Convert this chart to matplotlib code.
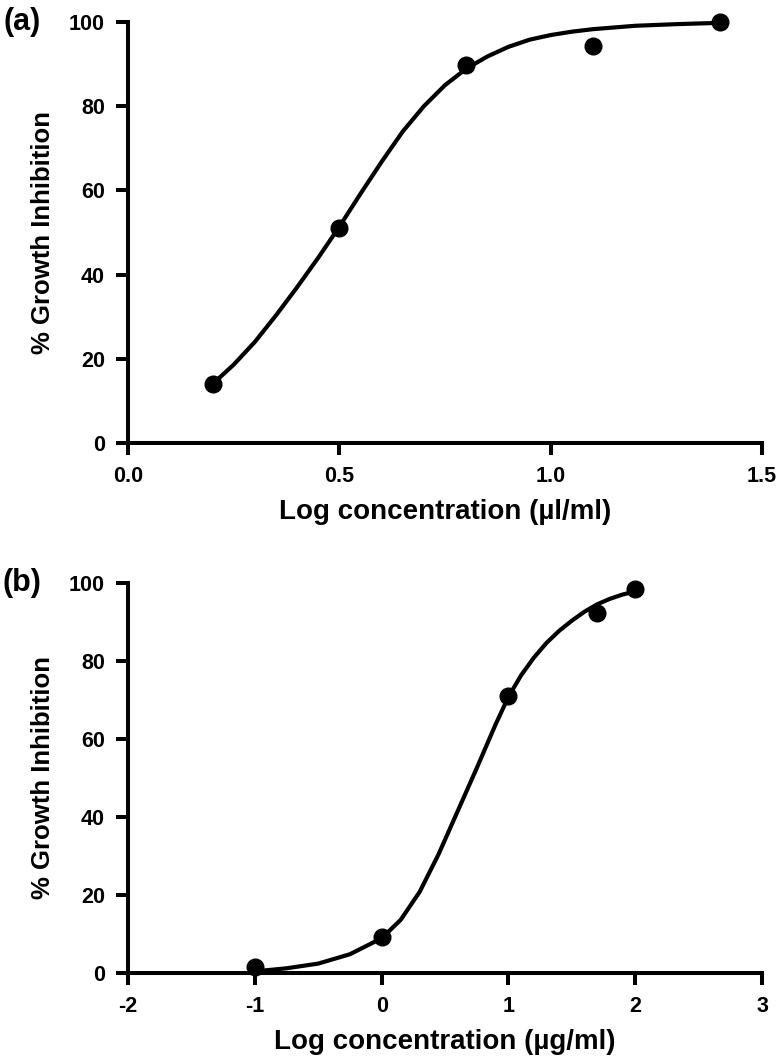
import matplotlib
matplotlib.use("Agg")
import matplotlib.pyplot as plt

plt.rcParams['font.family'] = ['Liberation Sans', 'DejaVu Sans']
plt.rcParams['font.weight'] = 'bold'
plt.rcParams['axes.unicode_minus'] = False

# panel (a): ul/ml
a_x = [0.2, 0.5, 0.8, 1.1, 1.4]
a_y = [14.0, 51.0, 89.8, 94.4, 99.9]
# fitted curve
a_fit_x = [0.20, 0.25, 0.30, 0.35, 0.40, 0.45, 0.50, 0.55, 0.60, 0.65, 0.70,
           0.75, 0.80, 0.85, 0.90, 0.95, 1.00, 1.05, 1.10, 1.20, 1.30, 1.40]
a_fit_y = [14.0, 18.6, 24.0, 30.3, 37.0, 44.0, 51.4, 59.2, 66.8, 74.0, 80.0,
           85.0, 88.9, 91.8, 94.1, 95.8, 96.9, 97.7, 98.3, 99.1, 99.5, 99.8]
a_xticks = [0.0, 0.5, 1.0, 1.5]
a_xlabels = ["0.0", "0.5", "1.0", "1.5"]

# panel (b): ug/ml
b_x = [-1, 0, 1, 1.7, 2]
b_y = [1.5, 9.2, 71.0, 92.3, 98.3]
b_fit_x = [-1.0, -0.75, -0.5, -0.25, 0.0, 0.15, 0.3, 0.45, 0.6, 0.75, 0.9,
           1.0, 1.1, 1.2, 1.3, 1.4, 1.5, 1.6, 1.7, 1.8, 1.9, 2.0]
b_fit_y = [0.4, 1.2, 2.4, 4.8, 8.9, 13.6, 20.8, 30.5, 41.5, 52.5, 63.8,
           70.8, 76.3, 80.8, 84.6, 87.7, 90.3, 92.6, 94.5, 95.9, 97.0, 97.8]
b_xticks = [-2, -1, 0, 1, 2, 3]
b_xlabels = ["-2", "-1", "0", "1", "2", "3"]

yticks = [0, 20, 40, 60, 80, 100]


def panel(ax, x, y, fx, fy, xticks, xlabels, xlabel):
    ax.plot(fx, fy, color='black', lw=3.0, clip_on=False, zorder=3,
            solid_joinstyle='round')
    ax.plot(x, y, 'o', color='black', ms=12, clip_on=False, zorder=4)
    ax.set_xlim(xticks[0], xticks[-1])
    ax.set_ylim(0, 100)
    ax.set_xticks(xticks)
    ax.set_xticklabels(xlabels)
    ax.set_yticks(yticks)
    for s in ['top', 'right']:
        ax.spines[s].set_visible(False)
    for s in ['left', 'bottom']:
        ax.spines[s].set_linewidth(2.9)
    ax.tick_params(axis='both', length=8.5, width=2.9, labelsize=15.5)
    ax.tick_params(axis='x', pad=8)
    ax.tick_params(axis='y', pad=8)
    ax.set_xlabel(xlabel, fontsize=20, fontweight='bold', labelpad=9)
    ax.set_ylabel("% Growth Inhibition", fontsize=18.5, fontweight='bold', labelpad=10)


fig = plt.figure(figsize=(7.76, 10.63), dpi=100)
ax1 = fig.add_axes([0.165, 0.5833, 0.817, 0.396])
ax2 = fig.add_axes([0.165, 0.0847, 0.817, 0.367])

panel(ax1, a_x, a_y, a_fit_x, a_fit_y, a_xticks, a_xlabels,
      "Log concentration (\u00b5l/ml)")
panel(ax2, b_x, b_y, b_fit_x, b_fit_y, b_xticks, b_xlabels,
      "Log concentration (\u00b5g/ml)")

fig.text(0.005, 0.979, "(a)", fontsize=22, fontweight='bold', ha='left', va='center')
fig.text(0.003, 0.4516, "(b)", fontsize=22, fontweight='bold', ha='left', va='center')

fig.savefig("out.png", dpi=100)
